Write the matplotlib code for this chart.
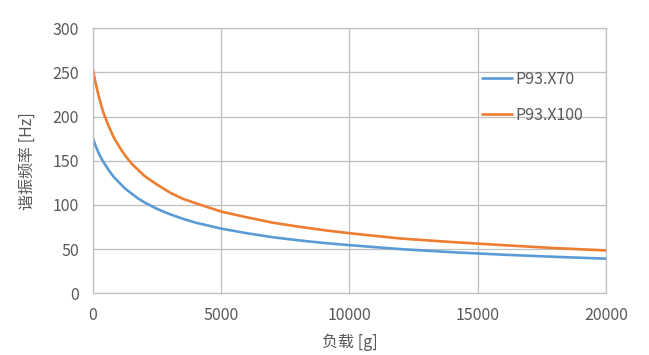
import matplotlib
matplotlib.use("Agg")
import matplotlib.pyplot as plt

plt.rcParams['font.family'] = ['Noto Sans CJK SC', 'DejaVu Sans']

load_g = [0, 100, 250, 400, 600, 800, 1000, 1250, 1500, 1750, 2000, 2500, 3000, 3500,
          4000, 5000, 6000, 7000, 8000, 9000, 10000, 12000, 14000, 16000, 18000, 20000]
p93_x70 = [175, 167, 157, 149, 140, 132, 126, 118.6, 113, 107.5, 103, 95.5, 89.5, 84.4,
           80, 73.2, 68, 63.5, 60, 57, 54.5, 50, 46.5, 43.7, 41.3, 39.2]
p93_x100 = [253, 238, 220, 205, 190, 177, 167, 156, 147, 140, 133, 123, 114, 107,
            102, 92.5, 86, 80, 75.5, 71.5, 68, 62, 58, 54.5, 51.2, 48.5]
series_names = ['P93.X70', 'P93.X100']
xticks = [0, 5000, 10000, 15000, 20000]
yticks = [0, 50, 100, 150, 200, 250, 300]

txt = '#595959'
grid = '#bfbfbf'

fig = plt.figure(figsize=(6.49, 3.55), dpi=100)
ax = fig.add_axes([0.1433, 0.1738, 0.7904, 0.7465])

ax.plot(load_g, p93_x70, color='#5b9bd5', lw=1.9, label=series_names[0],
        solid_capstyle='butt', solid_joinstyle='round')
ax.plot(load_g, p93_x100, color='#ed7d31', lw=1.9, label=series_names[1],
        solid_capstyle='butt', solid_joinstyle='round')

ax.set_xlim(0, 20000)
ax.set_ylim(0, 300)
ax.set_xticks(xticks)
ax.set_yticks(yticks)
ax.grid(True, color=grid, lw=0.9)
ax.set_axisbelow(True)
for s in ax.spines.values():
    s.set_color(grid)
    s.set_linewidth(0.9)
ax.tick_params(length=0, labelsize=11.5, labelcolor=txt)
ax.tick_params(axis='y', pad=10)
ax.tick_params(axis='x', pad=10)

ax.set_xlabel('负载 [g]', fontsize=11.5, color=txt, labelpad=7)
ax.set_ylabel('谐振频率 [Hz]', fontsize=11.5, color=txt, labelpad=12)

leg = ax.legend(loc='upper left', bbox_to_anchor=(0.757, 0.84), frameon=False,
                fontsize=11.5, handlelength=2.0, handletextpad=0.15,
                labelspacing=1.2, borderpad=0, borderaxespad=0)
for t in leg.get_texts():
    t.set_color(txt)

fig.savefig('out.png', dpi=100)
